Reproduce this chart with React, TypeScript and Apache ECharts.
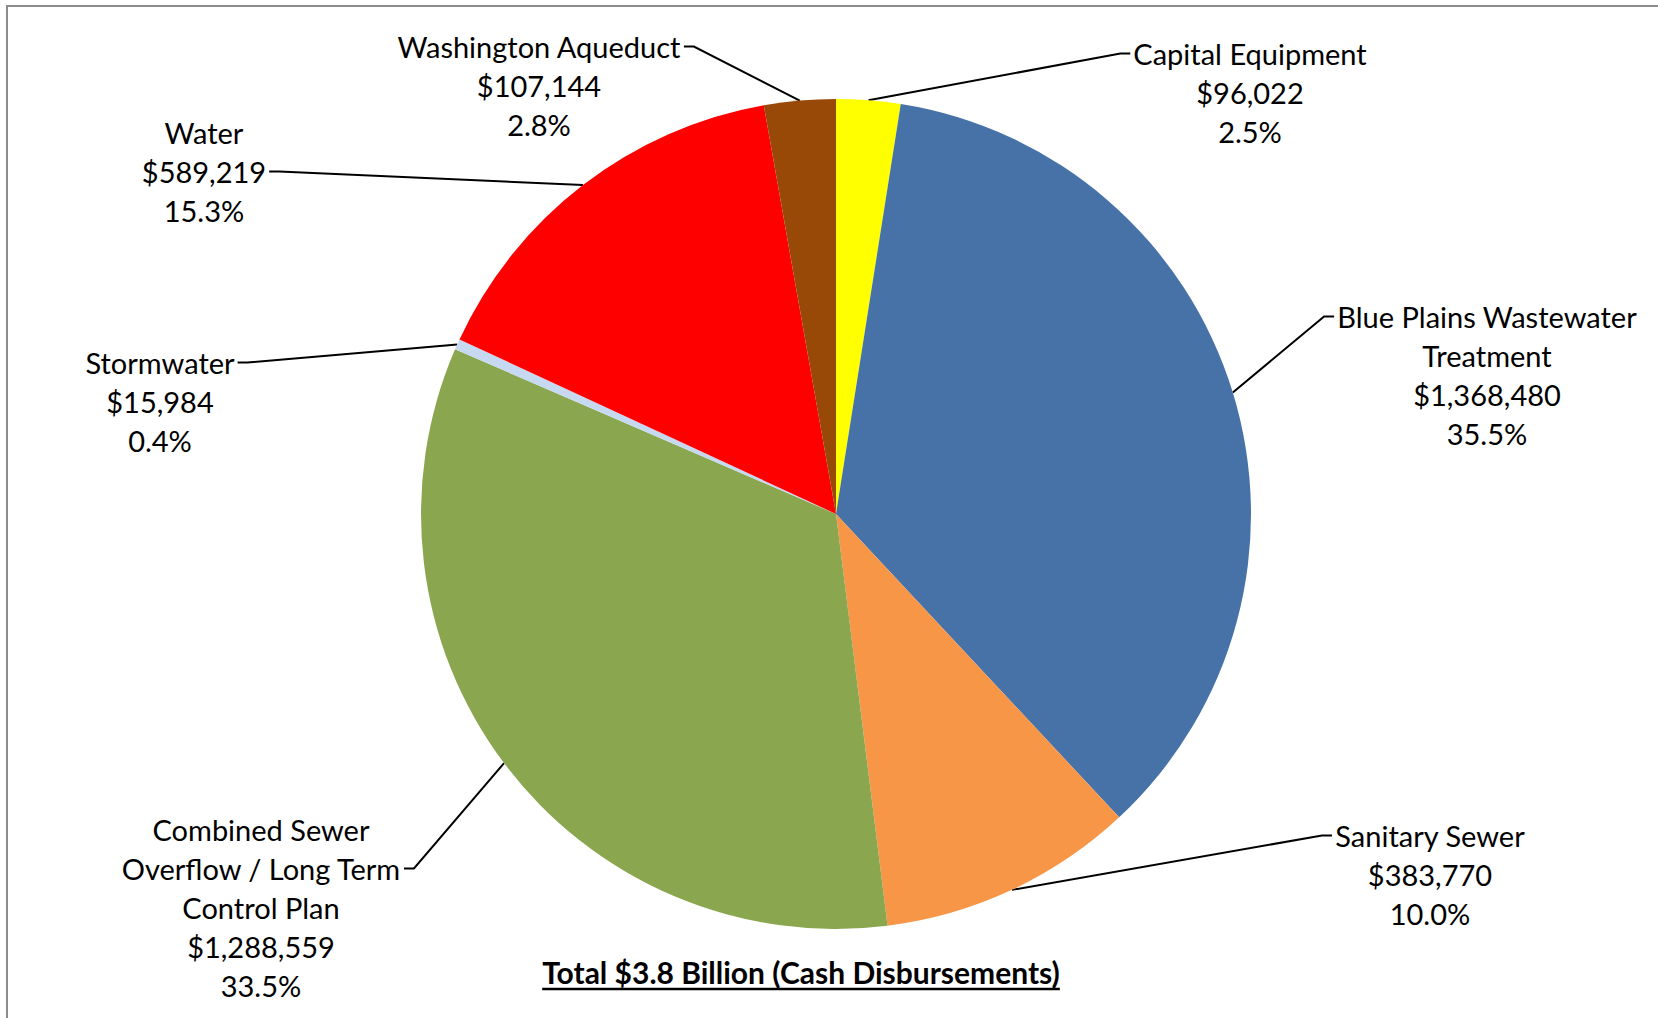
import React, { useEffect, useRef } from "react";
import * as echarts from "echarts";

const categories = [
  "Capital Equipment",
  "Blue Plains Wastewater\nTreatment",
  "Sanitary Sewer",
  "Combined Sewer\nOverflow / Long Term\nControl Plan",
  "Stormwater",
  "Water",
  "Washington Aqueduct",
];
const values = [96022, 1368480, 383770, 1288559, 15984, 589219, 107144];
const colors = ["#FFFF00", "#4672A8", "#F79646", "#8AA64F", "#C6D9F1", "#FF0000", "#984807"];
const titleText = "Total $3.8 Billion (Cash Disbursements)";

// label placement: centre x, top y, and which text line the leader line meets
const labelPlacement = [
  { x: 1250, y: 34, line: 0 },
  { x: 1487, y: 297, line: 0 },
  { x: 1430, y: 816, line: 0 },
  { x: 261, y: 810, line: 1 },
  { x: 160, y: 343, line: 0 },
  { x: 204, y: 113, line: 1 },
  { x: 539, y: 27, line: 0 },
];

const CX = 836;
const CY = 514;
const R = 415;
const FONT = "Lato";
const FS = 29;
const LH = 39;

export default function App() {
  const ref = useRef<HTMLDivElement>(null);
  useEffect(() => {
    if (!ref.current) return;
    const chart = echarts.init(ref.current, undefined, { renderer: "svg" });
    const canvas = document.createElement("canvas");
    const ctx = canvas.getContext("2d")!;
    const TFS = 30;
    ctx.font = `bold ${TFS}px ${FONT}`;
    const titleW = ctx.measureText(titleText).width;
    const titleX = 801;
    const titleY = 972;

    chart.setOption({
      animation: false,
      backgroundColor: "#ffffff",
      graphic: [
        {
          type: "rect",
          shape: { x: 7, y: 6, width: 1700, height: 1100 },
          style: { fill: "none", stroke: "#8c8c8c", lineWidth: 2 },
        },
        {
          type: "text",
          style: {
            text: titleText,
            x: titleX,
            y: titleY,
            textAlign: "center",
            textVerticalAlign: "middle",
            fontFamily: FONT,
            fontWeight: "bold",
            fontSize: TFS,
            fill: "#000",
          },
        },
        {
          type: "line",
          shape: { x1: titleX - titleW / 2, y1: titleY + 17, x2: titleX + titleW / 2, y2: titleY + 17 },
          style: { stroke: "#000", lineWidth: 2.5 },
        },
      ],
      series: [
        {
          type: "pie",
          center: [CX, CY],
          radius: R,
          startAngle: 90,
          clockwise: true,
          avoidLabelOverlap: false,
          percentPrecision: 1,
          itemStyle: { borderWidth: 0 },
          emphasis: { disabled: true },
          label: {
            show: true,
            position: "outside",
            fontFamily: FONT,
            fontSize: FS,
            lineHeight: LH,
            color: "#000",
            align: "center",
            formatter: (p: any) =>
              `${p.name}\n$${Number(p.value).toLocaleString("en-US")}\n${Number(p.percent).toFixed(1)}%`,
          },
          labelLine: {
            show: true,
            length: 15,
            length2: 15,
            smooth: false,
            lineStyle: { color: "#000", width: 2 },
          },
          labelLayout: (params: any) => {
            const p = labelPlacement[params.dataIndex];
            const w = params.labelRect.width;
            const isLeft = p.x < CX;
            const ax = isLeft ? p.x + w / 2 + 3 : p.x - w / 2 - 3;
            const ay = p.y + LH * p.line + LH / 2;
            const edge = params.labelLinePoints ? params.labelLinePoints[0] : [ax, ay];
            return {
              x: p.x,
              y: p.y,
              align: "center",
              verticalAlign: "top",
              labelLinePoints: [edge, [isLeft ? ax + 10 : ax - 10, ay], [ax, ay]],
            };
          },
          data: categories.map((name, i) => ({
            name,
            value: values[i],
            itemStyle: { color: colors[i] },
          })),
        },
      ],
    });
    return () => chart.dispose();
  }, []);
  return (
    <div
      ref={ref}
      style={{ position: "absolute", left: 0, top: 0, width: 1658, height: 1018 }}
    />
  );
}
